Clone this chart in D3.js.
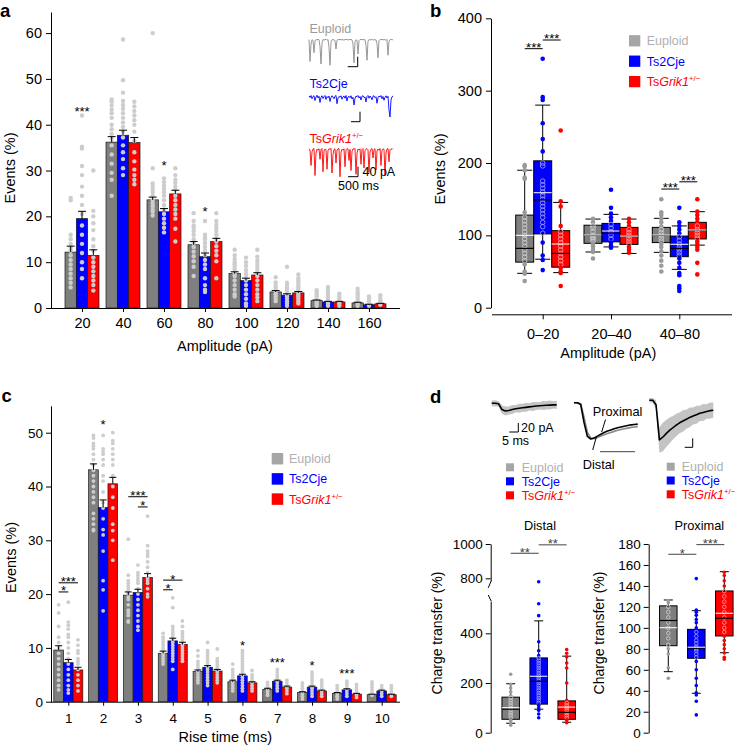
<!DOCTYPE html>
<html>
<head>
<meta charset="utf-8">
<script src="https://cdn.jsdelivr.net/npm/d3@7"></script>
<style>
  body { margin: 0; background: #fff; }
  svg { font-family: "Liberation Sans", Arial, Helvetica, sans-serif; display: block; }
</style>
</head>
<body>
<svg width="737" height="747"></svg>
<script>
// groups shared by every panel
const groups = ['Euploid', 'Ts2Cje', 'TsGrik1'];
const groupColors = ['#7f7f7f', '#0000ff', '#ff0000'];
const legendFill = ['#a6a6a6', '#0000ff', '#ff0000'];
const legendText = ['#b0b0b0', '#0000ff', '#ff0000'];

// ---- a: amplitude distribution (events %)
const ampBins = [20, 40, 60, 80, 100, 120, 140, 160];
const ampMean = [[12.2, 19.5, 11.5], [36.2, 37.7, 36.1], [23.6, 21.0, 24.9], [13.8, 11.2, 14.5],
  [7.5, 6.0, 7.2], [3.5, 2.8, 3.3], [1.6, 1.3, 1.3], [1.1, 0.7, 0.9]];
const ampSem = [[1.3, 1.6, 1.2], [1.2, 1.1, 1.1], [0.6, 0.7, 0.8], [0.7, 0.8, 0.7],
  [0.4, 0.5, 0.5], [0.3, 0.3, 0.3], [0.15, 0.15, 0.15], [0.15, 0.12, 0.12]];
const ampDots = [
  [[24, 23.5, 16, 15, 14, 13.2, 12.5, 11.5, 10.5, 9.5, 8.5, 7.5, 6.5, 5.5, 4.5],
   [42, 35.2, 34.8, 31, 29, 26.5, 24.5, 22.5, 20.5, 18, 16, 14, 12, 10, 8.5, 6.5],
   [30, 21.2, 20, 18.5, 17, 15, 13.5, 12.5, 11, 10, 9, 8, 7, 6, 5, 3.8]],
  [[45.5, 45, 44.2, 43.3, 42.5, 41.5, 40, 39, 38, 37, 35.5, 33.5, 31.5, 29.5, 28, 24.5],
   [58.6, 49.7, 47, 45.2, 44.3, 43.5, 42.5, 41.5, 40.5, 39.5, 38.5, 37.2, 35.5, 34, 32.5, 30.5, 29],
   [45, 44, 43, 42, 41, 40, 38.5, 36.5, 34, 32, 30.2, 29, 28, 27]],
  [[60, 30.5, 27.2, 26.6, 26, 25.3, 24.5, 23.5, 22.8, 22.2, 21.5, 21, 20.2],
   [28.3, 27.5, 26.7, 26, 25.3, 24.5, 23.5, 22.5, 21.5, 20.5, 19.5, 18.5, 17.5, 16.5],
   [30.5, 29, 28, 27.3, 26.5, 25.8, 24.5, 23.5, 22.5, 21.5, 20.5, 19.5, 17.3, 14.5]],
  [[20.7, 19, 18, 17.5, 16.8, 16, 15, 14.2, 13.3, 12.3, 11.3, 10.2, 9, 7],
   [19, 16, 15.5, 15, 14.2, 13.3, 12.5, 11.5, 10.5, 9.5, 8.5, 6.5, 5, 4, 3.5],
   [20.7, 19, 18.2, 17.5, 16.8, 16, 15.2, 14.5, 13.5, 12.5, 11.5, 10.2, 6.5]],
  [[12.7, 11.5, 10.7, 10, 9.5, 9, 8.5, 8, 7.5, 7, 6, 5, 4, 3, 2.5],
   [11, 10, 9.2, 8.3, 7.5, 6.8, 6, 5, 4, 3, 2, 1, 0.5],
   [12.7, 11.2, 10.3, 9.6, 9, 8.3, 7.6, 7, 6, 5, 4, 3, 2.3, 1.5]],
  [[6.7, 5.6, 5, 4.5, 4, 3.5, 3, 2.5, 2, 1.5],
   [9, 5.5, 5, 4.5, 4, 3.5, 3, 2.5, 2, 1.5, 1, 0.5],
   [7.3, 6.5, 6, 5.5, 5, 4.5, 4, 3.5, 3, 2.5, 2, 1.5, 1]],
  [[3.9, 3.5, 3, 2.5, 2, 1.5, 1, 0.5],
   [4.6, 4, 3.5, 3, 2.5, 2, 1.5, 1, 0.5],
   [3.1, 2.5, 2, 1.5, 1, 0.5]],
  [[4.2, 3.5, 3, 2.5, 2, 1.5, 1, 0.5],
   [2.5, 2, 1.5, 1, 0.5],
   [2.8, 2.2, 1.7, 1.2, 0.7]]
];
const ampStars = [[20, 43.6, '***'], [60, 31.8, '*'], [80, 21.8, '*']];

// example traces in a (pA, one sample per px)
const euploidTrace = [-2, -90, -20, -3, -5, -55, -8, -2, -4, -1, -3, -30, -100, -15, -2, -4, -3, -1, -5, -2, -35, -105,
  -12, -3, -2, -4, -6, -40, -5, -2, -3, -1, -4, -2, -3, -5, -2, -1, -3, -4, -2, -3, -1, -4, -20, -95, -10, -3, -5, -60,
  -6, -2, -3, -1, -4, -2, -3, -25, -85, -8, -2, -4, -3, -1, -5, -2, -3, -4, -18, -75, -7, -2, -3, -1, -4, -2, -3, -5,
  -2, -65, -9, -3, -1, -4, -2];
const ts2Trace = [-4, -10, -2, -15, -6, -3, -22, -8, -1, -12, -5, -30, -9, -3, -14, -7, -2, -18, -6, -11, -4, -26, -10,
  -3, -8, -15, -5, -2, -35, -12, -6, -9, -3, -17, -7, -4, -13, -2, -24, -8, -5, -11, -3, -16, -9, -40, -14, -4, -7, -2,
  -12, -6, -20, -5, -3, -10, -8, -28, -6, -2, -13, -4, -9, -19, -5, -3, -11, -7, -33, -10, -4, -8, -2, -15, -6, -21, -9,
  -3, -12, -5, -60, -88, -20, -7, -4];
const grikTrace = [-3, -8, -70, -15, -4, -2, -110, -20, -5, -9, -3, -45, -6, -2, -95, -12, -4, -7, -85, -10, -3, -5, -2,
  -100, -25, -6, -3, -60, -8, -4, -2, -115, -18, -5, -9, -3, -75, -7, -2, -4, -50, -6, -90, -14, -3, -5, -2, -105, -22,
  -4, -8, -3, -65, -6, -2, -80, -11, -4, -3, -7, -98, -16, -5, -2, -40, -6, -3, -88, -12, -4, -9, -2, -70, -8, -3, -5,
  -108, -20, -4, -2, -55, -7, -3, -6, -2];

// ---- b: events normalised per amplitude class (box plots)
const bBins = ['0–20', '20–40', '40–80'];
const bQ1 = [[63, 102, 56], [89, 91, 87.5], [90, 70.5, 95]];
const bQ3 = [[128, 203, 106.5], [114, 116.5, 111], [111, 99, 118]];
const bMed = [[82, 149, 75], [100, 103, 99], [100, 82, 107]];
const bMean = [[100, 159, 88], [100.5, 106, 99], [100.5, 87.6, 107.4]];
const bLo = [[47.5, 67, 48.5], [77, 84, 75], [76.5, 53, 86.5]];
const bHi = [[190, 280, 145.5], [122.5, 129, 122.5], [123.5, 113, 132.7]];
const bDots = [
  [[197, 195, 190, 180, 178, 132, 125, 120, 115, 110, 105, 100, 95, 90, 85, 80, 75, 70, 65, 60, 50, 47, 37],
   [344, 291, 287, 255, 233, 216, 200, 196, 175, 170, 165, 160, 155, 150, 145, 140, 135, 130, 125, 118, 112, 103, 90, 72, 66, 52],
   [245, 147, 140, 113, 105, 100, 95, 90, 85, 80, 75, 70, 65, 60, 55, 50, 48, 30]],
  [[123, 118, 113, 110, 105, 100, 97, 95, 92, 88, 85, 80, 77, 68],
   [163, 138, 130, 125, 120, 115, 110, 105, 100, 95, 90, 86, 83],
   [123, 118, 113, 108, 104, 100, 96, 92, 88, 84, 80, 76]],
  [[150, 132, 128, 123, 118, 112, 108, 104, 100, 96, 92, 88, 84, 78, 72, 65, 58, 50],
   [138, 118, 113, 108, 103, 98, 93, 88, 84, 80, 76, 72, 68, 62, 55, 48, 45, 30, 27, 23],
   [150, 133, 128, 123, 118, 113, 108, 104, 100, 96, 92, 88, 84, 80, 62, 46]]
];
// [bin, group1, group2, value of bracket, label]
const bBrackets = [['0–20', 0, 1, 358, '***'], ['0–20', 1, 2, 370, '***'],
  ['40–80', 0, 1, 164, '***'], ['40–80', 1, 2, 174, '***']];

// ---- c: rise time distribution
const riseBins = [1, 2, 3, 4, 5, 6, 7, 8, 9, 10];
const riseMean = [[9.6, 7.25, 5.9], [43.1, 36.1, 40.5], [19.8, 20.3, 23.1], [9.0, 11.3, 10.65], [5.6, 6.4, 5.7],
  [3.7, 4.8, 3.5], [2.3, 3.8, 2.7], [1.7, 2.7, 2.0], [1.55, 2.2, 1.4], [1.3, 2.0, 1.3]];
const riseSem = [[0.8, 0.6, 0.5], [1.1, 1.4, 1.2], [0.6, 0.6, 0.7], [0.4, 0.5, 0.4], [0.3, 0.3, 0.3],
  [0.3, 0.3, 0.2], [0.2, 0.2, 0.2], [0.15, 0.2, 0.15], [0.15, 0.2, 0.15], [0.1, 0.15, 0.1]];
const riseDots = [
  [[18, 16.5, 14, 12, 11, 10, 9, 8, 7, 6, 5, 4, 3, 2.2],
   [18.5, 14.8, 14.2, 13.5, 12.5, 12, 11, 10, 9, 8, 7, 6, 5, 4, 3, 2.2, 1.6],
   [11.5, 10.5, 9.5, 9, 8, 7.5, 7, 6, 5, 4, 3, 2]],
  [[49.5, 49, 48, 47.5, 47, 46, 45, 44, 43, 42, 41, 40, 39, 38, 37, 35, 34, 33, 32, 31.8],
   [49.5, 47, 46.5, 46, 45, 44, 42, 41, 39, 37, 36, 34, 32, 31, 28, 22.5, 20.8, 16.9],
   [50, 48.5, 48, 47, 46, 45, 44, 42, 40, 38, 36, 33, 31.8, 30, 26.3]],
  [[30.2, 23.5, 22.5, 22, 21.5, 21, 20.5, 20, 19.5, 19, 18, 17, 16.5, 16, 15, 14.8],
   [25.4, 24, 23.5, 23, 22.5, 22, 21, 20, 19, 18, 17, 16, 15, 14, 13.3],
   [34.5, 29, 28, 27.5, 27, 26, 25, 24, 23, 22.5, 22, 21, 20, 19.5]],
  [[12.7, 12, 11.5, 11, 10.5, 10, 9.5, 9, 8.5, 8, 7.5, 7],
   [19.3, 17.5, 14, 13.5, 13, 12.5, 12, 11.5, 11, 10.5, 10, 9.5, 9, 8.5, 8, 7.5, 6],
   [15, 14, 13, 12.5, 12, 11.5, 11, 10.5, 10, 9.5, 9, 8.5, 8, 7.5]],
  [[9.5, 8.5, 7.5, 7, 6.5, 6, 5.5, 5, 4.5, 4, 3.5],
   [11, 9.5, 9, 8.5, 8, 7.5, 7, 6.5, 6, 5.5, 5, 4.5, 4, 3.5, 3],
   [9.8, 8, 7.5, 7, 6.5, 6, 5.5, 5, 4.5, 4, 3.5]],
  [[7, 6, 5.5, 5, 4.5, 4, 3.5, 3, 2.5, 2],
   [9.5, 9, 8.5, 8, 7.5, 7, 6.5, 6, 5.5, 5, 4.5, 4, 3.5, 3, 2.5, 2],
   [5.8, 5, 4.5, 4, 3.5, 3, 2.5, 2]],
  [[3.6, 3.2, 2.8, 2.4, 2, 1.6, 1.2],
   [6, 5.5, 5, 4.5, 4, 3.5, 3, 2.5, 2],
   [4, 3.5, 3, 2.5, 2, 1.5]],
  [[3.5, 3, 2.5, 2, 1.5, 1, 0.5],
   [5.5, 5, 4.5, 4, 3.5, 3, 2.5, 2, 1.5, 1],
   [4, 3.5, 3, 2.5, 2, 1.5, 1]],
  [[3, 2.5, 2, 1.5, 1, 0.5],
   [3.8, 3.4, 3, 2.5, 2, 1.5, 1],
   [3.2, 2.8, 2.3, 1.8, 1.3, 0.8]],
  [[3.7, 3.2, 2.7, 2.2, 1.7, 1.2],
   [3, 2.5, 2, 1.5, 1],
   [3, 2.5, 2, 1.5, 1]]
];
const riseStars = [[2, 52, '*'], [6, 11, '*'], [7, 7.9, '***'], [8, 7.25, '*'], [9, 5.8, '***']];
const riseBrackets = [[1, 0, 1, 20.4, '*'], [1, 0, 2, 22.1, '***'], [3, 0, 2, 38.1, '***'], [3, 1, 2, 36.2, '*'],
  [4, 0, 1, 20.8, '*'], [4, 0, 2, 22.6, '*']];

// ---- d: charge transfer (%)
const distQ1 = [54, 115, 54], distQ3 = [143, 301, 128], distMed = [94.6, 207, 82], distMean = [101, 227, 103];
const distLo = [38, 94.6, 42], distHi = [197, 450, 308];
const distDots = [
  [235, 195, 180, 165, 150, 140, 130, 120, 110, 100, 90, 80, 70, 60, 50, 40, 30],
  [780, 519, 471, 366, 330, 310, 300, 290, 280, 270, 260, 250, 240, 230, 220, 210, 200, 190, 180, 170, 160, 150, 140, 130, 120, 110, 100, 90, 75, 60],
  [335, 320, 305, 280, 260, 200, 130, 120, 110, 100, 90, 80, 70, 60, 50, 40]
];
const distBrackets = [[0, 1, 946, '**'], [1, 2, 995, '**']];
const proxQ1 = [83, 71, 92.3], proxQ3 = [121, 98.6, 135.2], proxMed = [107, 80.5, 109.2], proxMean = [100.2, 81.5, 113.9];
const proxLo = [58.2, 37.6, 76.3], proxHi = [126.6, 116.4, 153.6];
const proxDots = [
  [126, 124, 120, 115, 110, 105, 100, 95, 90, 84, 80, 75, 62, 52],
  [147, 117, 115, 112, 108, 105, 100, 96, 92, 88, 85, 82, 80, 78, 75, 72, 68, 60, 52, 45, 38, 36, 30, 17],
  [153, 150, 145, 140, 135, 130, 125, 120, 115, 110, 105, 100, 96, 92, 88, 84, 80, 76, 72, 70]
];
const proxBrackets = [[0, 1, 170.2, '*'], [1, 2, 179.4, '***']];

// averaged sEPSC traces in d (pA or normalised, 20 samples each)
const d1Mean = [0, 0, -1, -14, -17, -16, -14, -12, -11, -10, -9, -8, -7, -6, -5.5, -5, -4.5, -4, -3.5, -3.5];
const d1Spread = [6, 7, 6, 9, 10, 9, 10, 8, 10, 9, 10, 8, 10, 9, 8, 10, 9, 10, 8, 9];
const proxNorm = [0, 0, -0.05, -0.55, -0.93, -1, -0.97, -0.92, -0.87, -0.82, -0.78, -0.75, -0.72, -0.69, -0.67, -0.65, -0.63, -0.61, -0.6, -0.59];
const distNorm = [0, 0, -0.03, -0.4, -0.82, -0.97, -0.99, -0.96, -0.92, -0.88, -0.85, -0.82, -0.79, -0.76, -0.74, -0.72, -0.7, -0.68, -0.67, -0.66];
const d3Mean = [0, 0, -10, -88, -82, -74, -67, -61, -55, -50, -46, -42, -38, -35, -32, -29, -27, -25, -23, -22];
const d3Spread = [5, 5, 10, 28, 32, 30, 29, 26, 25, 23, 24, 21, 22, 19, 20, 17, 19, 16, 18, 17];

const svg = d3.select('svg');
const STAR = 13;

function groupLabel(t, j) {
  if (j < 2) { t.text(groups[j]); return; }
  t.append('tspan').text('Ts');
  t.append('tspan').attr('font-style', 'italic').text('Grik1');
  t.append('tspan').attr('font-size', '0.62em').attr('dy', '-0.6em').text('+/−');
}

function legend(x0, y0, dy, size, textX, fs) {
  groups.forEach((_, j) => {
    svg.append('rect').attr('x', x0).attr('y', y0 + j * dy - size / 2)
      .attr('width', size).attr('height', size).attr('fill', legendFill[j]);
    const t = svg.append('text').attr('x', textX).attr('y', y0 + j * dy).attr('dy', '0.36em')
      .attr('font-size', fs).attr('fill', legendText[j]);
    groupLabel(t, j);
  });
}

function starText(x, yc, txt, color) {
  // yc is the visual centre of the asterisks
  svg.append('text').attr('x', x).attr('y', yc + 0.57 * STAR).attr('text-anchor', 'middle')
    .attr('font-size', STAR).attr('fill', color || '#000').text(txt);
}

function bracket(x1, x2, yl, txt, color) {
  svg.append('line').attr('x1', x1).attr('x2', x2).attr('y1', yl).attr('y2', yl)
    .attr('stroke', color || '#000').attr('stroke-width', 1);
  starText((x1 + x2) / 2, yl - 4, txt, color);
}

function yTitle(txt, cx, cy, fs) {
  svg.append('text').attr('transform', `translate(${cx},${cy}) rotate(-90)`).attr('dy', '0.35em')
    .attr('text-anchor', 'middle').attr('font-size', fs).text(txt);
}

function styleAxis(a, fs) {
  a.attr('font-family', null).attr('font-size', fs);
}

function barPanel(o) {
  const x = d3.scalePoint().domain(o.bins).range(o.xRange);
  const inner = d3.scaleBand().domain([0, 1, 2]).range([-o.groupW / 2, o.groupW / 2]);
  const y = d3.scaleLinear().domain([0, o.yTop]).range([o.y0, o.yTopPx]);
  const bw = inner.bandwidth();
  const cx = (i, j) => x(o.bins[i]) + inner(j) + bw / 2;

  svg.append('g').attr('transform', `translate(${o.axisX},0)`)
    .call(d3.axisLeft(y).tickValues(o.yTicks).tickSize(5).tickPadding(o.yPad).tickSizeOuter(0))
    .call(a => styleAxis(a, o.tickFont));
  svg.append('g').attr('transform', `translate(0,${o.y0})`)
    .call(d3.axisBottom(x).tickSize(4).tickPadding(o.xPad).tickSizeOuter(0))
    .call(a => styleAxis(a, o.tickFont))
    .call(a => a.select('.domain').attr('d', `M${o.axisX},0.5H${o.axisEnd}`));

  const flat = [];
  o.mean.forEach((row, i) => row.forEach((m, j) => flat.push({ i, j, m, s: o.sem[i][j], dots: o.dots[i][j] })));

  svg.append('g').selectAll('rect').data(flat).join('rect')
    .attr('x', d => cx(d.i, d.j) - bw / 2).attr('width', bw)
    .attr('y', d => y(d.m)).attr('height', d => y(0) - y(d.m))
    .attr('fill', d => groupColors[d.j]).attr('stroke', '#1a1a1a').attr('stroke-width', 0.7);

  svg.append('g').selectAll('circle')
    .data(flat.flatMap(d => d.dots.map(v => ({ i: d.i, j: d.j, v }))))
    .join('circle')
    .attr('cx', d => cx(d.i, d.j)).attr('cy', d => y(d.v)).attr('r', o.r)
    .attr('fill', '#cdcdcd');

  const err = svg.append('g').attr('stroke', '#000').attr('stroke-width', 1);
  flat.forEach(d => {
    const xc = cx(d.i, d.j);
    err.append('line').attr('x1', xc).attr('x2', xc).attr('y1', y(d.m)).attr('y2', y(d.m + d.s));
    err.append('line').attr('x1', xc - o.cap).attr('x2', xc + o.cap).attr('y1', y(d.m + d.s)).attr('y2', y(d.m + d.s));
  });

  (o.stars || []).forEach(([bin, v, txt]) => starText(x(bin), y(v), txt));
  (o.brackets || []).forEach(([bin, g1, g2, v, txt]) => {
    const i = o.bins.indexOf(bin);
    bracket(cx(i, g1), cx(i, g2), y(v), txt);
  });
}

function boxes(xs, y, st, dots, boxW, capW, r) {
  const g = svg.append('g');
  groups.forEach((_, j) => {
    const c = xs[j], col = groupColors[j];
    const light = d3.interpolateRgb(col, '#fff')(0.6);
    g.append('line').attr('x1', c).attr('x2', c).attr('y1', y(st.hi[j])).attr('y2', y(st.lo[j]))
      .attr('stroke', '#000').attr('stroke-width', 1);
    g.append('rect').attr('x', c - boxW / 2).attr('width', boxW)
      .attr('y', y(st.q3[j])).attr('height', y(st.q1[j]) - y(st.q3[j]))
      .attr('fill', col).attr('stroke', '#000').attr('stroke-width', 1);
    [st.hi[j], st.lo[j]].forEach(v => g.append('line').attr('x1', c - capW / 2).attr('x2', c + capW / 2)
      .attr('y1', y(v)).attr('y2', y(v)).attr('stroke', '#000').attr('stroke-width', 1));
    g.append('g').selectAll('circle').data(dots[j]).join('circle')
      .attr('cx', c).attr('cy', v => y(v)).attr('r', r)
      .each(function (v) {
        const inside = v > st.q1[j] && v < st.q3[j];
        d3.select(this)
          .attr('fill', inside ? 'none' : (j === 0 ? '#9a9a9a' : col))
          .attr('stroke', inside ? light : 'none').attr('stroke-width', 0.9);
      });
    g.append('line').attr('x1', c - boxW / 2).attr('x2', c + boxW / 2)
      .attr('y1', y(st.med[j])).attr('y2', y(st.med[j])).attr('stroke', '#000').attr('stroke-width', 1.2);
    g.append('line').attr('x1', c - boxW / 2).attr('x2', c + boxW / 2)
      .attr('y1', y(st.mean[j])).attr('y2', y(st.mean[j])).attr('stroke', '#fff').attr('stroke-width', 1.2)
      .attr('opacity', 0.85);
  });
}

function trace(vals, x0, x1, base, pxPerUnit, color, width) {
  const x = d3.scaleLinear().domain([0, vals.length - 1]).range([x0, x1]);
  const y = d3.scaleLinear().domain([0, -1]).range([base, base + pxPerUnit]);
  svg.append('path').attr('d', d3.line().x((d, i) => x(i)).y(d => y(d))(vals))
    .attr('fill', 'none').attr('stroke', color).attr('stroke-width', width).attr('stroke-linejoin', 'round');
}

function band(mean, spread, x0, x1, base, pxPerUnit) {
  const x = d3.scaleLinear().domain([0, mean.length - 1]).range([x0, x1]);
  const y = d3.scaleLinear().domain([0, -1]).range([base, base + pxPerUnit]);
  svg.append('path')
    .attr('d', d3.area().x((d, i) => x(i)).y0((d, i) => y(d - spread[i])).y1((d, i) => y(d + spread[i]))(mean))
    .attr('fill', '#c4c4c4');
}

function scaleBar(xr, yb, w, h) {
  svg.append('path').attr('d', `M${xr - w},${yb}H${xr}V${yb - h}`)
    .attr('fill', 'none').attr('stroke', '#000').attr('stroke-width', 1);
}

function panelLetter(l, x, y) {
  svg.append('text').attr('x', x).attr('y', y).attr('font-size', 18.5).attr('font-weight', 'bold').text(l);
}

// ===== panel a
barPanel({
  bins: ampBins, mean: ampMean, sem: ampSem, dots: ampDots, stars: ampStars,
  xRange: [82, 369], groupW: 34, y0: 308, yTop: 64.6, yTopPx: 12,
  yTicks: d3.range(0, 61, 10), axisX: 51, axisEnd: 400, tickFont: 14.5, xPad: 6, yPad: 4, r: 2.2, cap: 4
});
yTitle('Events (%)', 9.5, 168, 14.5);
svg.append('text').attr('x', 225).attr('y', 350.5).attr('text-anchor', 'middle').attr('font-size', 14.5).text('Amplitude (pA)');
panelLetter('a', 0, 17);

// traces in a: 40 pA = 10 px
trace(euploidTrace, 309, 393, 39, 10 / 40, '#8c8c8c', 0.9);
trace(ts2Trace, 309, 393, 95, 10 / 40, '#0000ff', 0.9);
trace(grikTrace, 309, 393, 148, 10 / 40, '#ff0000', 0.9);
scaleBar(357.7, 66.7, 10, 10);
scaleBar(360, 121.7, 9, 10);
scaleBar(358, 176.7, 10, 10);
[[32.5, 0], [87.5, 1], [143, 2]].forEach(([yb, j]) => {
  const t = svg.append('text').attr('x', 309.5).attr('y', yb).attr('font-size', 12.5).attr('fill', j === 0 ? '#9a9a9a' : groupColors[j]);
  groupLabel(t, j);
});
svg.append('text').attr('x', 362.5).attr('y', 176).attr('font-size', 12.5).text('40 pA');
svg.append('text').attr('x', 338).attr('y', 189.5).attr('font-size', 12.5).text('500 ms');

// ===== panel b
{
  const x = d3.scalePoint().domain(bBins).range([542.7, 679.3]);
  const inner = d3.scaleBand().domain([0, 1, 2]).range([-27, 27]);
  const y = d3.scaleLinear().domain([0, 400]).range([307.7, 18.3]);
  const bw = inner.bandwidth();
  svg.append('g').attr('transform', 'translate(491,0)')
    .call(d3.axisLeft(y).tickValues([0, 100, 200, 300, 400]).tickSize(5).tickPadding(4).tickSizeOuter(0))
    .call(a => styleAxis(a, 14.5));
  svg.append('g').attr('transform', 'translate(0,314.3)')
    .call(d3.axisBottom(x).tickSize(5).tickPadding(9).tickSizeOuter(0))
    .call(a => styleAxis(a, 14.5))
    .call(a => a.select('.domain').attr('d', 'M492,0.5H732'));
  bBins.forEach((bin, i) => {
    const xs = [0, 1, 2].map(j => x(bin) + inner(j) + bw / 2);
    boxes(xs, y, { q1: bQ1[i], q3: bQ3[i], med: bMed[i], mean: bMean[i], lo: bLo[i], hi: bHi[i] },
      bDots[i], bw, 15, 2.3);
  });
  bBrackets.forEach(([bin, g1, g2, v, txt]) => {
    bracket(x(bin) + inner(g1) + bw / 2, x(bin) + inner(g2) + bw / 2, y(v), txt);
  });
  yTitle('Events (%)', 439.7, 169, 14.5);
  svg.append('text').attr('x', 608.3).attr('y', 357.5).attr('text-anchor', 'middle').attr('font-size', 14.5).text('Amplitude (pA)');
  legend(629, 40.8, 20.4, 11.3, 646.7, 12.5);
  panelLetter('b', 430, 17);
}

// ===== panel c
barPanel({
  bins: riseBins, mean: riseMean, sem: riseSem, dots: riseDots, stars: riseStars, brackets: riseBrackets,
  xRange: [68.3, 381.7], groupW: 29, y0: 701.7, yTop: 55, yTopPx: 701.7 - 55 * 5.38,
  yTicks: d3.range(0, 51, 10), axisX: 51, axisEnd: 400, tickFont: 13.5, xPad: 8, yPad: 3, r: 1.9, cap: 3.5
});
yTitle('Events (%)', 10.8, 557.5, 14.5);
svg.append('text').attr('x', 225.3).attr('y', 742).attr('text-anchor', 'middle').attr('font-size', 14.5).text('Rise time (ms)');
legend(271.7, 458.7, 20.2, 11.5, 289, 12.5);
panelLetter('c', 1.5, 401.7);

// ===== panel d
panelLetter('d', 430, 403);
// trace 1 (20 pA = 9 px)
band(d1Mean, d1Spread, 491.7, 556.7, 403.3, 9 / 20);
trace(d1Mean, 491.7, 556.7, 403.3, 9 / 20, '#000', 1.6);
scaleBar(518.3, 432, 9, 9);
svg.append('text').attr('x', 521).attr('y', 432).attr('font-size', 12.5).text('20 pA');
svg.append('text').attr('x', 502).attr('y', 445).attr('font-size', 12.5).text('5 ms');
// trace 2: normalised proximal vs distal
trace(distNorm, 574, 637.7, 402.7, 36.3, '#8a8a8a', 1.6);
trace(proxNorm, 574, 637.7, 402.7, 36.3, '#000', 1.6);
svg.append('text').attr('x', 592.7).attr('y', 415.5).attr('font-size', 12.8).text('Proximal');
svg.append('text').attr('x', 582.7).attr('y', 469).attr('font-size', 12.8).text('Distal');
svg.append('line').attr('x1', 605.5).attr('y1', 419.5).attr('x2', 601.7).attr('y2', 432).attr('stroke', '#000');
svg.append('line').attr('x1', 596.5).attr('y1', 436.5).attr('x2', 592.7).attr('y2', 450).attr('stroke', '#000');
svg.append('line').attr('x1', 600).attr('y1', 451.7).attr('x2', 635).attr('y2', 451.7).attr('stroke', '#444');
// trace 3
band(d3Mean, d3Spread, 649.3, 713.3, 400.3, 9 / 20);
trace(d3Mean, 649.3, 713.3, 400.3, 9 / 20, '#000', 1.6);
scaleBar(692.7, 447.3, 8, 9);
legend(506, 467.3, 14, 8, 521.7, 12.5);
legend(666.7, 466.7, 13.8, 8, 681.7, 12.5);

// distal (broken axis)
{
  const x = d3.scalePoint().domain([0, 1, 2]).range([510.7, 566.7]);
  const yLow = d3.scaleLinear().domain([0, 530]).range([732.7, 601]);
  const yUp = d3.scaleLinear().domain([785, 1000]).range([580.9, 544]);
  const y = v => (v < 650 ? yLow(v) : yUp(v));
  const ax = 490.7;
  svg.append('g').attr('transform', `translate(${ax},0)`)
    .call(d3.axisLeft(yLow).tickValues([0, 200, 400]).tickSize(5).tickPadding(3).tickSizeOuter(0))
    .call(a => styleAxis(a, 13.5));
  svg.append('g').attr('transform', `translate(${ax},0)`)
    .call(d3.axisLeft(yUp).tickValues([800, 1000]).tickFormat(d3.format('d')).tickSize(5).tickPadding(3).tickSizeOuter(0))
    .call(a => styleAxis(a, 13.5));
  svg.append('path').attr('d', `M${ax + 0.5},${yUp(785)}L${ax - 2.5},${yUp(785) + 7}M${ax - 2.5},${yLow(530) - 6}L${ax + 0.5},${yLow(530)}`)
    .attr('fill', 'none').attr('stroke', '#000');
  const xs = [0, 1, 2].map(j => x(j));
  boxes(xs, y, { q1: distQ1, q3: distQ3, med: distMed, mean: distMean, lo: distLo, hi: distHi }, distDots, 17.5, 9, 1.8);
  distBrackets.forEach(([g1, g2, v, txt]) => bracket(x(g1), x(g2), y(v), txt, '#444'));
  yTitle('Charge transfer (%)', 437.5, 633, 14);
  svg.append('text').attr('x', 540).attr('y', 530).attr('text-anchor', 'middle').attr('font-size', 12.8).text('Distal');
}

// proximal
{
  const x = d3.scalePoint().domain([0, 1, 2]).range([668.3, 724.3]);
  const y = d3.scaleLinear().domain([0, 180]).range([732.7, 544]);
  svg.append('g').attr('transform', 'translate(648.7,0)')
    .call(d3.axisLeft(y).tickValues(d3.range(0, 181, 20)).tickSize(5).tickPadding(3).tickSizeOuter(0))
    .call(a => styleAxis(a, 13.5));
  const xs = [0, 1, 2].map(j => x(j));
  boxes(xs, y, { q1: proxQ1, q3: proxQ3, med: proxMed, mean: proxMean, lo: proxLo, hi: proxHi }, proxDots, 17.5, 9, 1.8);
  proxBrackets.forEach(([g1, g2, v, txt]) => bracket(x(g1), x(g2), y(v), txt, '#444'));
  yTitle('Charge transfer (%)', 599.5, 633, 14);
  svg.append('text').attr('x', 699.3).attr('y', 530).attr('text-anchor', 'middle').attr('font-size', 12.8).text('Proximal');
}
</script>
</body>
</html>
